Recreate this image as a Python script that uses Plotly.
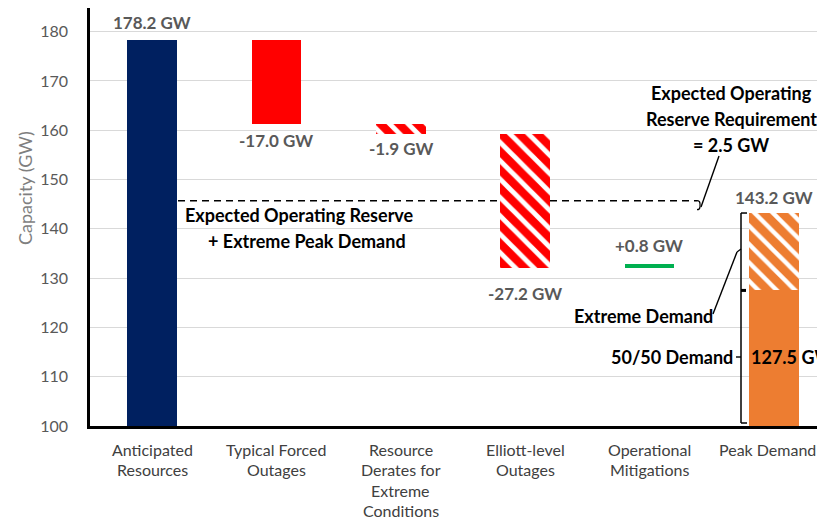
import plotly.graph_objects as go

# ---------------- data ----------------
categories = ["Anticipated Resources", "Typical Forced Outages",
              "Resource Derates for Extreme Conditions", "Elliott-level Outages",
              "Operational Mitigations", "Peak Demand"]
category_lines = [["Anticipated", "Resources"], ["Typical Forced", "Outages"],
                  ["Resource", "Derates for", "Extreme", "Conditions"],
                  ["Elliott-level", "Outages"], ["Operational", "Mitigations"],
                  ["Peak Demand"]]
anticipated = 178.2
deltas = [-17.0, -1.9, -27.2, 0.8]
demand_5050 = 127.5
demand_extreme = 143.2
reserve_requirement = 2.5
value_labels = ["178.2 GW", "-17.0 GW", "-1.9 GW", "-27.2 GW", "+0.8 GW", "143.2 GW"]
y_ticks = [100, 110, 120, 130, 140, 150, 160, 170, 180]

# ---------------- waterfall geometry ----------------
bases, heights, tops = [0], [anticipated], [anticipated]
level = anticipated
for d in deltas:
    new = level + d
    bases.append(min(level, new))
    heights.append(abs(d))
    tops.append(max(level, new))
    level = new
bases.append(0)
heights.append(demand_5050)
tops.append(demand_extreme)

colors = ["#002060", "#FF0000", "#FF0000", "#FF0000", "#00B050", "#ED7D31"]
shapes_pat = ["", "", "\\", "\\", "", ""]

# page has an 8px body margin -> figure is 8px smaller and shifted
OFF = 8
W, H = 825 - OFF, 521 - OFF
PAGE_L, PAGE_BOT = 90, 426
L = PAGE_L - OFF
PW = W - L
PH = PAGE_BOT - OFF
B = H - PH
PXU = 4.93
Y0 = 100
Y1 = Y0 + PH / PXU
XR = [-0.5, 5.413]

def xp(p):  # page pixel -> paper x
    return (p - PAGE_L) / PW

def yp(p):  # page pixel -> paper y
    return (PAGE_BOT - p) / PH

def yv(v):  # value -> paper y
    return (v - Y0) / (Y1 - Y0)

FONT = "Lato"
fig = go.Figure()
fig.add_trace(go.Bar(
    x=categories, y=heights, base=bases, width=0.4,
    marker=dict(color=colors, line=dict(width=0),
                pattern=dict(shape=shapes_pat, fgcolor="white", fgopacity=1, size=13,
                             solidity=0.38, fillmode="overlay")),
    hoverinfo="skip", showlegend=False))
fig.add_trace(go.Bar(
    x=[categories[-1]], y=[demand_extreme - demand_5050], base=[demand_5050], width=0.4,
    marker=dict(color="#ED7D31", line=dict(width=0),
                pattern=dict(shape="\\", fgcolor="white", fgopacity=1, size=13,
                             solidity=0.33, fillmode="overlay")),
    hoverinfo="skip", showlegend=False))

ann = []
gray = "#595959"
label_cfg = [
    (tops[0], "bottom", 5), (bases[1], "top", -4), (bases[2], "top", -2),
    (bases[3], "top", -13), (tops[4], "bottom", 6), (tops[5], "bottom", 3)]
for i, (yy, anc, sh) in enumerate(label_cfg):
    ann.append(dict(x=categories[i], y=yy, xref="x", yref="y", text=value_labels[i],
                    showarrow=False, yanchor=anc, yshift=sh,
                    font=dict(family=FONT, size=17, color=gray, weight="bold")))
ann.append(dict(x=xp(749), y=yp(357), xref="paper", yref="paper", text="%.1f GW" % demand_5050,
                showarrow=False, xanchor="left", yanchor="middle",
                font=dict(family=FONT, size=18, color="black", weight="bold")))

blk = dict(family=FONT, size=18, color="black", weight="bold")
for txt, x, y, xa in [("Expected Operating Reserve", 299, 215, "center"),
                      ("+ Extreme Peak Demand", 307, 241, "center"),
                      ("Expected Operating", 731, 93, "center"),
                      ("Reserve Requirement", 731, 119, "center"),
                      ("= %.1f GW" % reserve_requirement, 731, 145, "center"),
                      ("Extreme Demand", 643, 316, "center"),
                      ("50/50 Demand", 735, 357, "right")]:
    ann.append(dict(x=xp(x), y=yp(y), xref="paper", yref="paper", text=txt, showarrow=False,
                    xanchor=xa, yanchor="middle", font=blk))

for i, lines in enumerate(category_lines):
    for j, t in enumerate(lines):
        ann.append(dict(x=categories[i], y=yp(449 + 20.6 * j), xref="x", yref="paper",
                        text=t, showarrow=False, yanchor="middle",
                        xshift=(-6 if i == len(category_lines) - 1 else 0),
                        font=dict(family=FONT, size=16, color="#404040")))

ann.append(dict(x=xp(25), y=yp(188), xref="paper", yref="paper", text="Capacity (GW)",
                textangle=-90, showarrow=False, xanchor="center", yanchor="middle",
                font=dict(family=FONT, size=18, color="#7F7F7F")))

reserve_level = demand_extreme + reserve_requirement
ry = yv(reserve_level)
d = 1.0 / PH
shapes = [
    dict(type="line", xref="paper", yref="paper", x0=xp(178), x1=xp(697), y0=ry, y1=ry,
         line=dict(color="black", width=1.6, dash="7px,5px"), layer="below"),
    dict(type="path", xref="paper", yref="paper",
         path="M %f %f Q %f %f %f %f L %f %f Q %f %f %f %f" % (
             xp(697), ry, xp(700), ry, xp(700), ry - 3 * d,
             xp(700), ry - 6 * d, xp(700), ry - 9 * d, xp(697), ry - 9 * d),
         line=dict(color="black", width=1.2)),
    dict(type="line", xref="paper", yref="paper", x0=xp(701), y0=yp(207), x1=xp(719), y1=yp(156),
         line=dict(color="black", width=1.4)),
    dict(type="line", xref="paper", yref="paper", x0=xp(741), x1=xp(741),
         y0=yv(demand_extreme), y1=yp(423), line=dict(color="black", width=1.5)),
    dict(type="line", xref="paper", yref="paper", x0=xp(741), x1=xp(747),
         y0=yv(demand_extreme), y1=yv(demand_extreme), line=dict(color="black", width=1.5)),
    dict(type="line", xref="paper", yref="paper", x0=xp(741), x1=xp(747),
         y0=yp(423), y1=yp(423), line=dict(color="black", width=1.5)),
    dict(type="line", xref="paper", yref="paper", x0=xp(741), x1=xp(746),
         y0=yv(demand_5050), y1=yv(demand_5050), line=dict(color="black", width=3)),
    dict(type="line", xref="paper", yref="paper", x0=xp(737), x1=xp(741),
         y0=yp(252), y1=yp(249), line=dict(color="black", width=1.2)),
    dict(type="line", xref="paper", yref="paper", x0=xp(713), y0=yp(314), x1=xp(737), y1=yp(252),
         line=dict(color="black", width=1.4)),
    dict(type="line", xref="paper", yref="paper", x0=xp(736), x1=xp(741),
         y0=yp(357), y1=yp(357), line=dict(color="black", width=1.4)),
]

fig.update_layout(
    width=W, height=H, autosize=False,
    margin=dict(l=L, r=0, t=0, b=B, pad=0),
    plot_bgcolor="white", paper_bgcolor="white",
    barmode="overlay", bargap=0,
    annotations=ann, shapes=shapes,
    xaxis=dict(range=XR, showticklabels=False, showgrid=False, zeroline=False,
               showline=True, linecolor="black", linewidth=2.5, ticks=""),
    yaxis=dict(range=[Y0, Y1], tickvals=y_ticks, showgrid=True, gridcolor="#D9D9D9",
               gridwidth=1.2, zeroline=False, showline=True, linecolor="black",
               linewidth=2.5, ticks="", ticklabelstandoff=16,
               tickfont=dict(family=FONT, size=16, color=gray)),
)
fig.write_html("out.html")
